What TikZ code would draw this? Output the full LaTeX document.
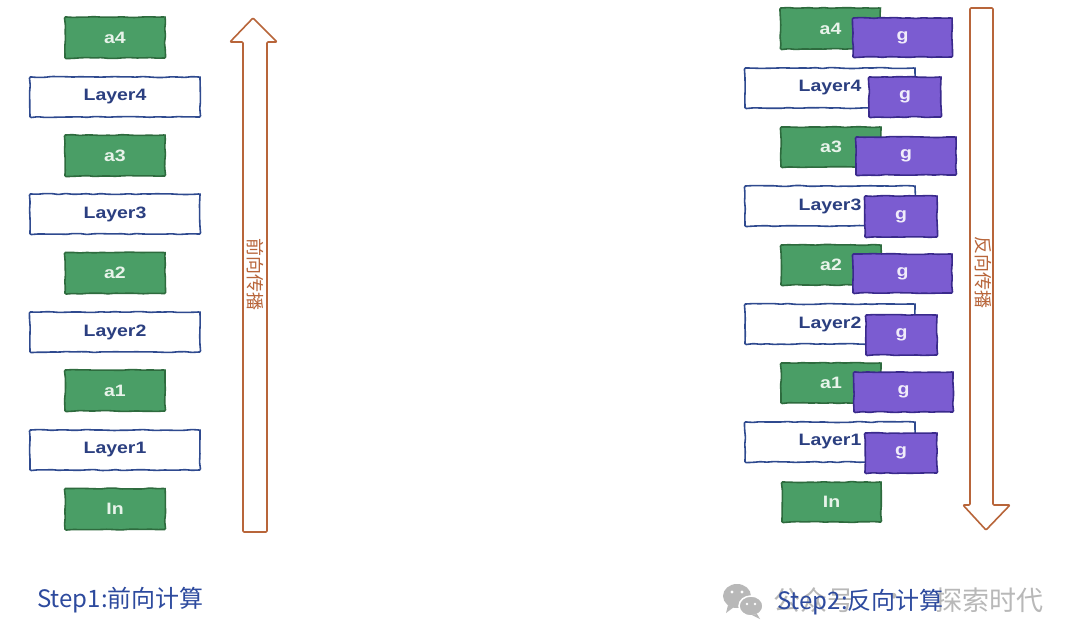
\documentclass[tikz,border=0pt]{standalone}
\usepackage{fontspec}
\setmainfont{Liberation Sans}
\newfontfamily\cjk{Noto Sans CJK SC}
\usetikzlibrary{decorations.pathmorphing}
\definecolor{actgreen}{HTML}{4A9E66}
\definecolor{actborder}{HTML}{2E6B3E}
\definecolor{acttext}{HTML}{E8F3EA}
\definecolor{layerblue}{HTML}{2F4A8F}
\definecolor{layertext}{HTML}{2B3F80}
\definecolor{gpurple}{HTML}{7B5CD1}
\definecolor{gborder}{HTML}{3A2A8C}
\definecolor{gtext}{HTML}{F0ECFA}
\definecolor{arrowbrown}{HTML}{B8653A}
\definecolor{stepblue}{HTML}{2D4A9E}
\definecolor{wmgray}{HTML}{B8B8B8}
\newcommand\labfont{\fontsize{16.5}{16.5}\selectfont\bfseries}
\newcommand\stretchlab[1]{\scalebox{1.18}[1]{#1}}
\begin{document}
\begin{tikzpicture}[x=1pt,y=-1pt,
  sketch/.style={decorate,decoration={random steps,segment length=7pt,amplitude=0.5pt},rounded corners=1.2pt,line width=1.6pt},
  abox/.style={sketch,fill=actgreen,draw=actborder,minimum width=100pt,minimum height=41pt,inner sep=0pt,text=acttext,font=\labfont},
  lbox/.style={sketch,fill=white,draw=layerblue,minimum width=170pt,minimum height=40pt,inner sep=0pt,text=layertext,font=\labfont},
  gbox/.style={sketch,fill=gpurple,draw=gborder,minimum width=99pt,minimum height=39pt,inner sep=0pt,text=gtext,font=\labfont},
  glbox/.style={gbox,minimum width=72pt,minimum height=40pt},
  bigarrow/.style={draw=arrowbrown,line width=1.6pt,fill=white,line join=round,rounded corners=1pt},
  arrowlab/.style={text=arrowbrown,font=\cjk\fontsize{18}{18}\selectfont,rotate=-90,inner sep=0pt},
  steplab/.style={anchor=base west,text=stepblue,font=\cjk\fontsize{24}{24}\selectfont,inner sep=0pt},
  wmlab/.style={text=wmgray,font=\cjk\fontsize{27}{27}\selectfont,inner sep=0pt}
]
\pgfmathsetseed{7}
\useasboundingbox (0,0) rectangle (1080,643);
\fill[white] (0,0) rectangle (1080,643);

% ---------- left column (forward) ----------
\node[abox] (La4) at (115,37.5) {\stretchlab{a4}};
\node[lbox] (LL4) at (115,97) {\stretchlab{Layer4}};
\node[abox] (La3) at (115,155.5) {\stretchlab{a3}};
\node[lbox] (LL3) at (115,214) {\stretchlab{Layer3}};
\node[abox] (La2) at (115,273) {\stretchlab{a2}};
\node[lbox] (LL2) at (115,332) {\stretchlab{Layer2}};
\node[abox] (La1) at (115,390.5) {\stretchlab{a1}};
\node[lbox] (LL1) at (115,450) {\stretchlab{Layer1}};
\node[abox] (LIn) at (115,509) {\stretchlab{In}};

% forward arrow
\coordinate (ftip) at (253,18);
\draw[bigarrow] (ftip) -- (277,42) -- (267,42) -- (267,532) -- (243,532) -- (243,42) -- (230,42) -- cycle;
\node[arrowlab] (flab) at (255,274) {前向传播};

% ---------- right column (backward) ----------
\node[abox] (Ra4) at (830.5,28.5) {\stretchlab{a4}};
\node[gbox] (Rg4) at (902.5,37.5) {\stretchlab{g}};
\node[lbox] (RL4) at (830,88) {\stretchlab{Layer4}};
\node[glbox] (RgL4) at (905,97) {\stretchlab{g}};
\node[abox,minimum height=40pt] (Ra3) at (831,147) {\stretchlab{a3}};
\node[gbox,minimum width=100pt,minimum height=38pt] (Rg3) at (906,156) {\stretchlab{g}};
\node[lbox] (RL3) at (830,206) {\stretchlab{Layer3}};
\node[glbox,minimum height=41pt] (RgL3) at (901,216.5) {\stretchlab{g}};
\node[abox,minimum height=40pt] (Ra2) at (831,265) {\stretchlab{a2}};
\node[gbox] (Rg2) at (902.5,273.5) {\stretchlab{g}};
\node[lbox] (RL2) at (830,324) {\stretchlab{Layer2}};
\node[glbox,minimum width=71pt] (RgL2) at (901.5,335) {\stretchlab{g}};
\node[abox,minimum height=40pt] (Ra1) at (831,383) {\stretchlab{a1}};
\node[gbox,minimum height=40pt] (Rg1) at (903.5,392) {\stretchlab{g}};
\node[lbox] (RL1) at (830,442) {\stretchlab{Layer1}};
\node[glbox] (RgL1) at (901,453) {\stretchlab{g}};
\node[abox,minimum width=99pt,minimum height=40pt] (RIn) at (831.5,502) {\stretchlab{In}};

% backward arrow
\coordinate (btip) at (986,530);
\draw[bigarrow] (970,8) -- (993,8) -- (993,505) -- (1010,505) -- (btip) -- (963,505) -- (970,505) -- cycle;
\node[arrowlab] (blab) at (983,272) {反向传播};

% ---------- watermark ----------
\fill[wmgray] (737,596) ellipse (14 and 12);
\fill[wmgray] (728,605) -- (726,613) -- (734,607) -- cycle;
\draw[white,line width=1.5pt,fill=wmgray] (751,606) ellipse (12 and 10);
\fill[wmgray] (757,614) -- (760,619) -- (752,615) -- cycle;
\fill[white] (732,592) circle (1.6) (742,592) circle (1.6) (747,604) circle (1.4) (755,604) circle (1.4);
\node[wmlab,anchor=west] (wm1) at (773,600) {公众号};
\node[wmlab] (wmdot) at (894,600) {·};
\node[wmlab,anchor=east] (wm2) at (1044,600) {探索时代};

% ---------- step captions ----------
\node[steplab] (step1) at (37,607) {Step1:前向计算};
\node[steplab] (step2) at (777,609) {Step2:反向计算};
\end{tikzpicture}
\end{document}
